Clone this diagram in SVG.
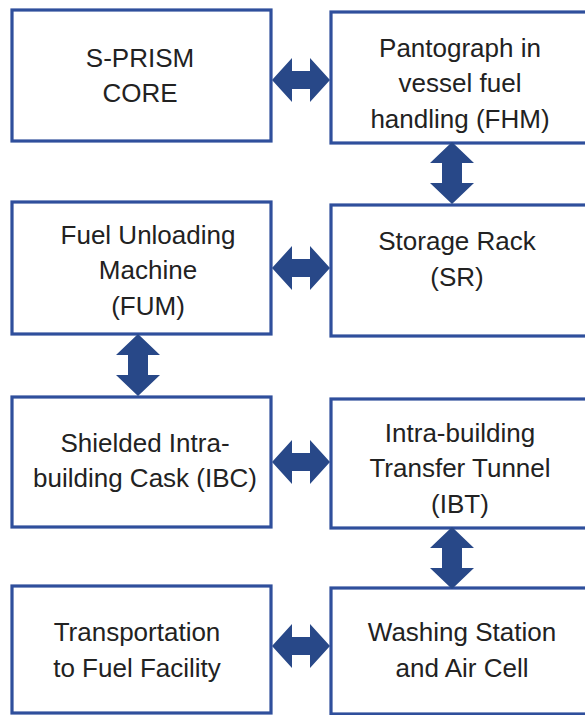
<svg xmlns="http://www.w3.org/2000/svg" width="585" height="715" viewBox="0 0 585 715">
  <style>
    .box { fill: #ffffff; stroke: #2f4f9c; stroke-width: 3.2; }
    .lbl { font-family: "Liberation Sans", Arial, sans-serif; font-size: 26px; fill: #222222; text-anchor: middle; }
    .arw { fill: #284888; }
  </style>
  <defs>
    <!-- double-headed block arrows, centred on the origin -->
    <path id="harrow" d="M-29,0 L-9,-22 L-9,-9 L9,-9 L9,-22 L29,0 L9,22 L9,9 L-9,9 L-9,22 Z"/>
    <path id="varrow" d="M0,-31 L22,-10 L10,-10 L10,10 L22,10 L0,31 L-22,10 L-10,10 L-10,-10 L-22,-10 Z"/>
  </defs>
  <rect width="585" height="715" fill="#ffffff"/>

  <g id="core">
    <rect class="box" x="12" y="10" width="259" height="131"/>
    <text class="lbl" x="140" y="67">S-PRISM</text>
    <text class="lbl" x="140" y="102">CORE</text>
  </g>
  <g id="fhm">
    <rect class="box" x="331" y="12" width="270" height="131"/>
    <text class="lbl" x="460" y="57">Pantograph in</text>
    <text class="lbl" x="460" y="92">vessel fuel</text>
    <text class="lbl" x="460" y="128">handling (FHM)</text>
  </g>
  <g id="fum">
    <rect class="box" x="12" y="202" width="259" height="132"/>
    <text class="lbl" x="148" y="244">Fuel Unloading</text>
    <text class="lbl" x="148" y="279">Machine</text>
    <text class="lbl" x="148" y="315">(FUM)</text>
  </g>
  <g id="sr">
    <rect class="box" x="331" y="205" width="270" height="131"/>
    <text class="lbl" x="457" y="250">Storage Rack</text>
    <text class="lbl" x="457" y="286">(SR)</text>
  </g>
  <g id="ibc">
    <rect class="box" x="12" y="397" width="259" height="130"/>
    <text class="lbl" x="145" y="452">Shielded Intra-</text>
    <text class="lbl" x="145" y="487">building Cask (IBC)</text>
  </g>
  <g id="ibt">
    <rect class="box" x="331" y="399" width="270" height="129"/>
    <text class="lbl" x="460" y="442">Intra-building</text>
    <text class="lbl" x="460" y="477">Transfer Tunnel</text>
    <text class="lbl" x="460" y="513">(IBT)</text>
  </g>
  <g id="transport">
    <rect class="box" x="12" y="586" width="259" height="127"/>
    <text class="lbl" x="137" y="641">Transportation</text>
    <text class="lbl" x="137" y="677">to Fuel Facility</text>
  </g>
  <g id="washing">
    <rect class="box" x="331" y="588" width="270" height="126"/>
    <text class="lbl" x="462" y="641">Washing Station</text>
    <text class="lbl" x="462" y="677">and Air Cell</text>
  </g>

  <g id="connectors" class="arw">
    <use href="#harrow" x="301" y="80"/>
    <use href="#varrow" x="452" y="173"/>
    <use href="#harrow" x="301" y="268"/>
    <use href="#varrow" x="138" y="365"/>
    <use href="#harrow" x="301" y="462"/>
    <use href="#varrow" x="452" y="558"/>
    <use href="#harrow" x="301" y="646"/>
  </g>
</svg>
